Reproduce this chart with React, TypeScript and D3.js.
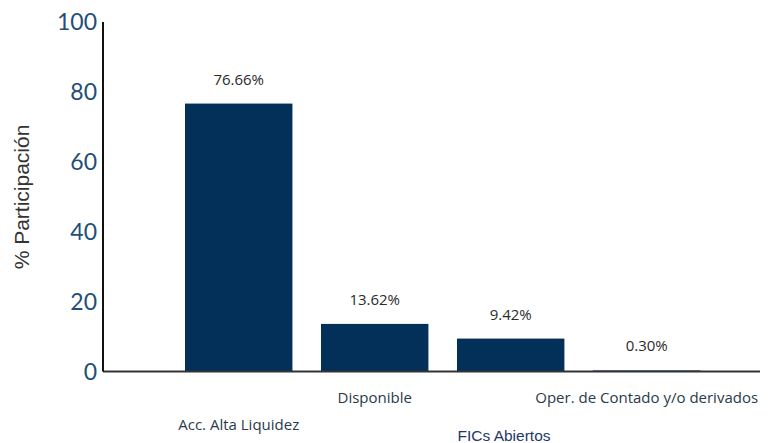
import React from "react";
import * as d3 from "d3";

const categories = ["Acc. Alta Liquidez", "Disponible", "FICs Abiertos", "Oper. de Contado y/o derivados"];
const values = [76.66, 13.62, 9.42, 0.3];
const valueLabels = ["76.66%", "13.62%", "9.42%", "0.30%"];
const yTicks = [0, 20, 40, 60, 80, 100];
const showCategoryLabel = [true, true, false, true];
const yTitle = "% Participación";
const xTitle = "FICs Abiertos";

const W = 768;
const H = 443;

export default function App() {
  const y = d3.scaleLinear().domain([0, 100]).range([371.5, 22]);
  const x = d3
    .scaleBand<string>()
    .domain(categories)
    .range([151, 734.4])
    .paddingInner(0.21)
    .paddingOuter(0.25);
  const bw = x.bandwidth();
  const axisX = 103;
  const y0 = y(0);
  const labelFont = "'Open Sans', Lato, sans-serif";

  return (
    <svg
      width={W}
      height={H}
      style={{ position: "absolute", left: 0, top: 0, background: "#fff" }}
    >
      {categories.map((c, i) => (
        <rect
          key={c}
          x={x(c)!}
          y={y(values[i])}
          width={bw}
          height={Math.max(0, y0 - y(values[i]))}
          fill="#023059"
        />
      ))}
      {categories.map((c, i) => (
        <text
          key={c + "v"}
          x={x(c)! + bw / 2}
          y={y(values[i]) - 19}
          textAnchor="middle"
          fontFamily={labelFont}
          fontSize={15}
          fill="#2b2b2b"
        >
          {valueLabels[i]}
        </text>
      ))}
      <line x1={axisX} x2={760} y1={y0} y2={y0} stroke="#333" strokeWidth={1.8} />
      <line x1={axisX} x2={axisX} y1={y(100)} y2={y0} stroke="#111" strokeWidth={2} />
      {yTicks.map((t) => (
        <text
          key={t}
          x={97}
          y={y(t) + 8}
          textAnchor="end"
          fontFamily="Lato, 'Open Sans', sans-serif"
          fontSize={23}
          fill="#1f4e79"
        >
          {t}
        </text>
      ))}
      {categories.map((c, i) =>
        showCategoryLabel[i] ? (
          <text
            key={c + "c"}
            x={x(c)! + bw / 2}
            y={i % 2 === 0 ? 430 : 403}
            textAnchor="middle"
            fontFamily={labelFont}
            fontSize={15}
            fill="#2a3a4b"
          >
            {c}
          </text>
        ) : null
      )}
      <text
        x={504}
        y={441}
        textAnchor="middle"
        fontFamily="'Liberation Sans', Arial, sans-serif"
        fontSize={15.5}
        fill="#1f3864"
      >
        {xTitle}
      </text>
      <text
        transform={`translate(29,197) rotate(-90)`}
        textAnchor="middle"
        fontFamily="'Liberation Sans', Arial, sans-serif"
        fontSize={21}
        fill="#333"
      >
        {yTitle}
      </text>
    </svg>
  );
}
